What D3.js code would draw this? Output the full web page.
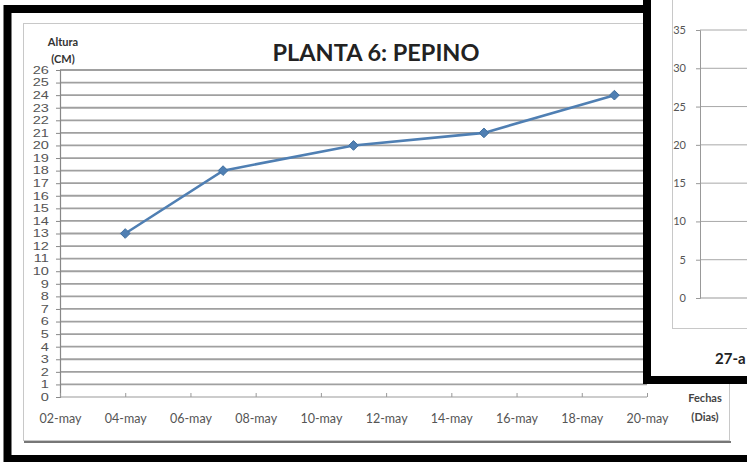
<!DOCTYPE html>
<html><head><meta charset="utf-8">
<script src="https://cdnjs.cloudflare.com/ajax/libs/d3/7.8.5/d3.min.js"></script>
<style>
html,body{margin:0;padding:0;background:#fff;}
svg{display:block;font-family:Lato,"Open Sans",sans-serif;}
</style></head>
<body><svg id="c" width="747" height="462"></svg>
<script>
// ---- data ----
const dates = ["2013-05-04","2013-05-07","2013-05-11","2013-05-15","2013-05-19"];
const heights = [13, 18, 20, 21, 24];
const xTickDates = ["2013-05-02","2013-05-04","2013-05-06","2013-05-08","2013-05-10","2013-05-12","2013-05-14","2013-05-16","2013-05-18","2013-05-20"];
const yTicks = d3.range(0, 27);
const title = "PLANTA 6: PEPINO";
const yTitle = ["Altura", "(CM)"];
const xTitle = ["Fechas", "(Dias)"];
// overlapping second chart (partially visible)
const yTicks2 = [0, 5, 10, 15, 20, 25, 30, 35];
const xLabel2 = "27-a";

const parse = d3.timeParse("%Y-%m-%d");
const svg = d3.select("#c");

// outer black frame of main chart
svg.append("rect").attr("x",7.5).attr("y",9).attr("width",800).attr("height",450)
  .attr("fill","#fff").attr("stroke","#000").attr("stroke-width",8);
// chart area border + shadow
svg.append("line").attr("x1",24).attr("x2",731).attr("y1",442).attr("y2",442).attr("stroke","#777").attr("stroke-width",2);
svg.append("rect").attr("x",23.5).attr("y",23.5).attr("width",706).attr("height",417)
  .attr("fill","#fff").attr("stroke","#c8c8c8").attr("stroke-width",1);

const x = d3.scaleTime().domain([parse("2013-05-02"), parse("2013-05-20")]).range([60, 647]);
const y = d3.scaleLinear().domain([0, 26]).range([397, 70]);

// gridlines
svg.append("g").selectAll("line").data(yTicks.filter(d=>d>0)).join("line")
  .attr("x1",60).attr("x2",647).attr("y1",d=>y(d)).attr("y2",d=>y(d))
  .attr("stroke","#a0a0a0").attr("stroke-width",1.8);

// y axis
const yAxis = svg.append("g").attr("transform","translate(60,0)")
  .call(d3.axisLeft(y).tickValues(yTicks).tickSize(4).tickPadding(9).tickFormat(d3.format("d")));
yAxis.select(".domain").attr("stroke","#888").attr("stroke-width",1.2);
yAxis.selectAll(".tick line").attr("stroke","#888");
yAxis.selectAll("text").attr("font-size",10.4).attr("fill","#555")
  .attr("font-family","'Liberation Sans',Arial,sans-serif")
  .attr("x",-8).attr("transform","scale(1.4,1)");

// x axis
const xAxis = svg.append("g").attr("transform","translate(0,397)")
  .call(d3.axisBottom(x).tickValues(xTickDates.map(parse)).tickSize(4).tickPadding(13)
    .tickFormat(d => d3.timeFormat("%d")(d) + "-may"));
xAxis.select(".domain").attr("stroke","#999").attr("stroke-width",1.2).attr("d","M60,0H647");
xAxis.selectAll(".tick line").attr("stroke","#999").attr("y2",-4);
xAxis.selectAll("text").attr("font-size",12.5).attr("fill","#555").attr("font-family","Lato,sans-serif");

// line series
const line = d3.line().x((d,i)=>x(parse(dates[i]))).y(d=>y(d));
svg.append("path").datum(heights).attr("d",line).attr("fill","none")
  .attr("stroke","#4f7fb3").attr("stroke-width",2.6);
svg.append("g").selectAll("path").data(heights).join("path")
  .attr("transform",(d,i)=>`translate(${x(parse(dates[i]))},${y(d)})`)
  .attr("d",d3.symbol().type(d3.symbolDiamond2).size(60))
  .attr("fill","#4f7fb3").attr("stroke","#41709f").attr("stroke-width",1);

// titles
svg.append("text").attr("x",376).attr("y",61).attr("text-anchor","middle")
  .attr("font-size",23.5).attr("font-weight","bold").attr("fill","#222").text(title);
svg.append("g").selectAll("text").data(yTitle).join("text")
  .attr("x",63).attr("y",(d,i)=>46+i*17).attr("text-anchor","middle")
  .attr("font-size",11).attr("font-weight","bold").attr("fill","#333").text(d=>d);
svg.append("g").selectAll("text").data(xTitle).join("text")
  .attr("x",705).attr("y",(d,i)=>402+i*19).attr("text-anchor","middle")
  .attr("font-size",11).attr("font-weight","bold").attr("fill","#444").text(d=>d);

// overlapping second chart
const g2 = svg.append("g");
g2.append("rect").attr("x",647).attr("y",-10).attr("width",120).attr("height",390)
  .attr("fill","#fff").attr("stroke","#000").attr("stroke-width",8);
g2.append("line").attr("x1",672.5).attr("x2",672.5).attr("y1",0).attr("y2",328).attr("stroke","#c8c8c8");
g2.append("line").attr("x1",672).attr("x2",747).attr("y1",328.5).attr("y2",328.5).attr("stroke","#c8c8c8");
const y2 = d3.scaleLinear().domain([0, 35]).range([298, 30]);
g2.append("g").selectAll("line").data(yTicks2.filter(d=>d>0)).join("line")
  .attr("x1",700).attr("x2",747).attr("y1",d=>y2(d)).attr("y2",d=>y2(d))
  .attr("stroke","#a8a8a8").attr("stroke-width",1);
const yAxis2 = g2.append("g").attr("transform","translate(700,0)")
  .call(d3.axisLeft(y2).tickValues(yTicks2).tickSize(4).tickPadding(10));
yAxis2.select(".domain").attr("stroke","#999");
yAxis2.selectAll(".tick line").attr("stroke","#999");
yAxis2.selectAll("text").attr("font-size",11).attr("fill","#555").attr("font-family","Lato,sans-serif");
g2.append("line").attr("x1",700).attr("x2",747).attr("y1",y2(0)).attr("y2",y2(0)).attr("stroke","#999");
g2.append("text").attr("x",715).attr("y",364).attr("font-size",15).attr("font-weight","bold")
  .attr("fill","#222").text(xLabel2);
</script></body></html>
